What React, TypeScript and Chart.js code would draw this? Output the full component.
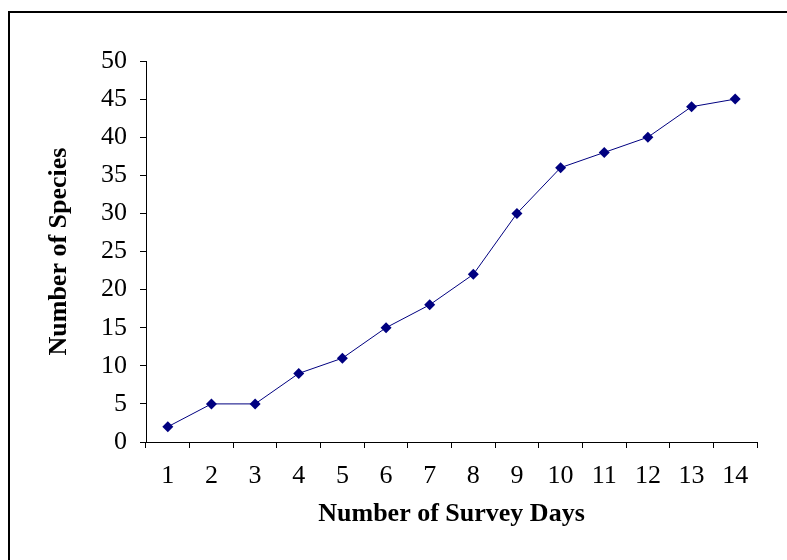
import React, { useEffect, useRef } from "react";
import { Chart, registerables } from "chart.js";

Chart.register(...registerables);

const categories: string[] = ["1", "2", "3", "4", "5", "6", "7", "8", "9", "10", "11", "12", "13", "14"];
const speciesCounts: number[] = [2, 5, 5, 9, 11, 15, 18, 22, 30, 36, 38, 40, 44, 45];
const yTitle = "Number of Species";
const xTitle = "Number of Survey Days";

const FONT = '"Liberation Serif", "Times New Roman", serif';

export default function App() {
  const ref = useRef<HTMLCanvasElement | null>(null);

  useEffect(() => {
    if (!ref.current) return;
    const chart = new Chart(ref.current, {
      type: "line",
      data: {
        labels: categories,
        datasets: [
          {
            data: speciesCounts,
            borderColor: "#000080",
            backgroundColor: "#000080",
            borderWidth: 1,
            pointStyle: "rectRot",
            pointRadius: 5.5,
            pointBackgroundColor: "#000080",
            pointBorderColor: "#000080",
            pointBorderWidth: 0,
            tension: 0,
            fill: false,
          },
        ],
      },
      options: {
        animation: false,
        responsive: false,
        devicePixelRatio: 1,
        layout: { padding: { top: 61, right: 30, left: 0, bottom: 0 } },
        plugins: {
          legend: { display: false },
          tooltip: { enabled: false },
          title: { display: false },
        },
        scales: {
          x: {
            type: "category",
            offset: true,
            afterFit: (s: any) => {
              s.height = 118;
            },
            grid: {
              display: true,
              offset: true,
              drawOnChartArea: false,
              drawTicks: true,
              tickLength: 6,
              color: "#000",
              lineWidth: 1,
            },
            border: { display: true, color: "#000", width: 1 },
            ticks: {
              color: "#000",
              font: { family: FONT, size: 26 },
              padding: 13,
              maxRotation: 0,
              autoSkip: false,
            },
            title: {
              display: true,
              text: xTitle,
              color: "#000",
              font: { family: FONT, size: 26, weight: "bold" },
              padding: { top: 0, bottom: 30 },
            },
          },
          y: {
            min: 0,
            max: 50,
            afterFit: (s: any) => {
              s.width = 146;
            },
            grid: {
              display: true,
              drawOnChartArea: false,
              drawTicks: true,
              tickLength: 6,
              color: "#000",
              lineWidth: 1,
            },
            border: { display: true, color: "#000", width: 1 },
            ticks: {
              stepSize: 5,
              color: "#000",
              font: { family: FONT, size: 26 },
              padding: 13,
            },
            title: {
              display: true,
              text: yTitle,
              color: "#000",
              font: { family: FONT, size: 26, weight: "bold" },
              padding: { top: 44, bottom: 0 },
            },
          },
        },
      },
    });
    return () => chart.destroy();
  }, []);

  return (
    <div style={{ position: "fixed", left: 0, top: 0, width: 787, height: 560, background: "#fff" }}>
      <canvas ref={ref} width={787} height={560} style={{ width: 787, height: 560, display: "block" }} />
      <div
        style={{
          position: "absolute",
          left: 8,
          top: 11,
          width: 779,
          height: 549,
          boxSizing: "border-box",
          borderTop: "2px solid #000",
          borderLeft: "2px solid #000",
          pointerEvents: "none",
        }}
      />
    </div>
  );
}
